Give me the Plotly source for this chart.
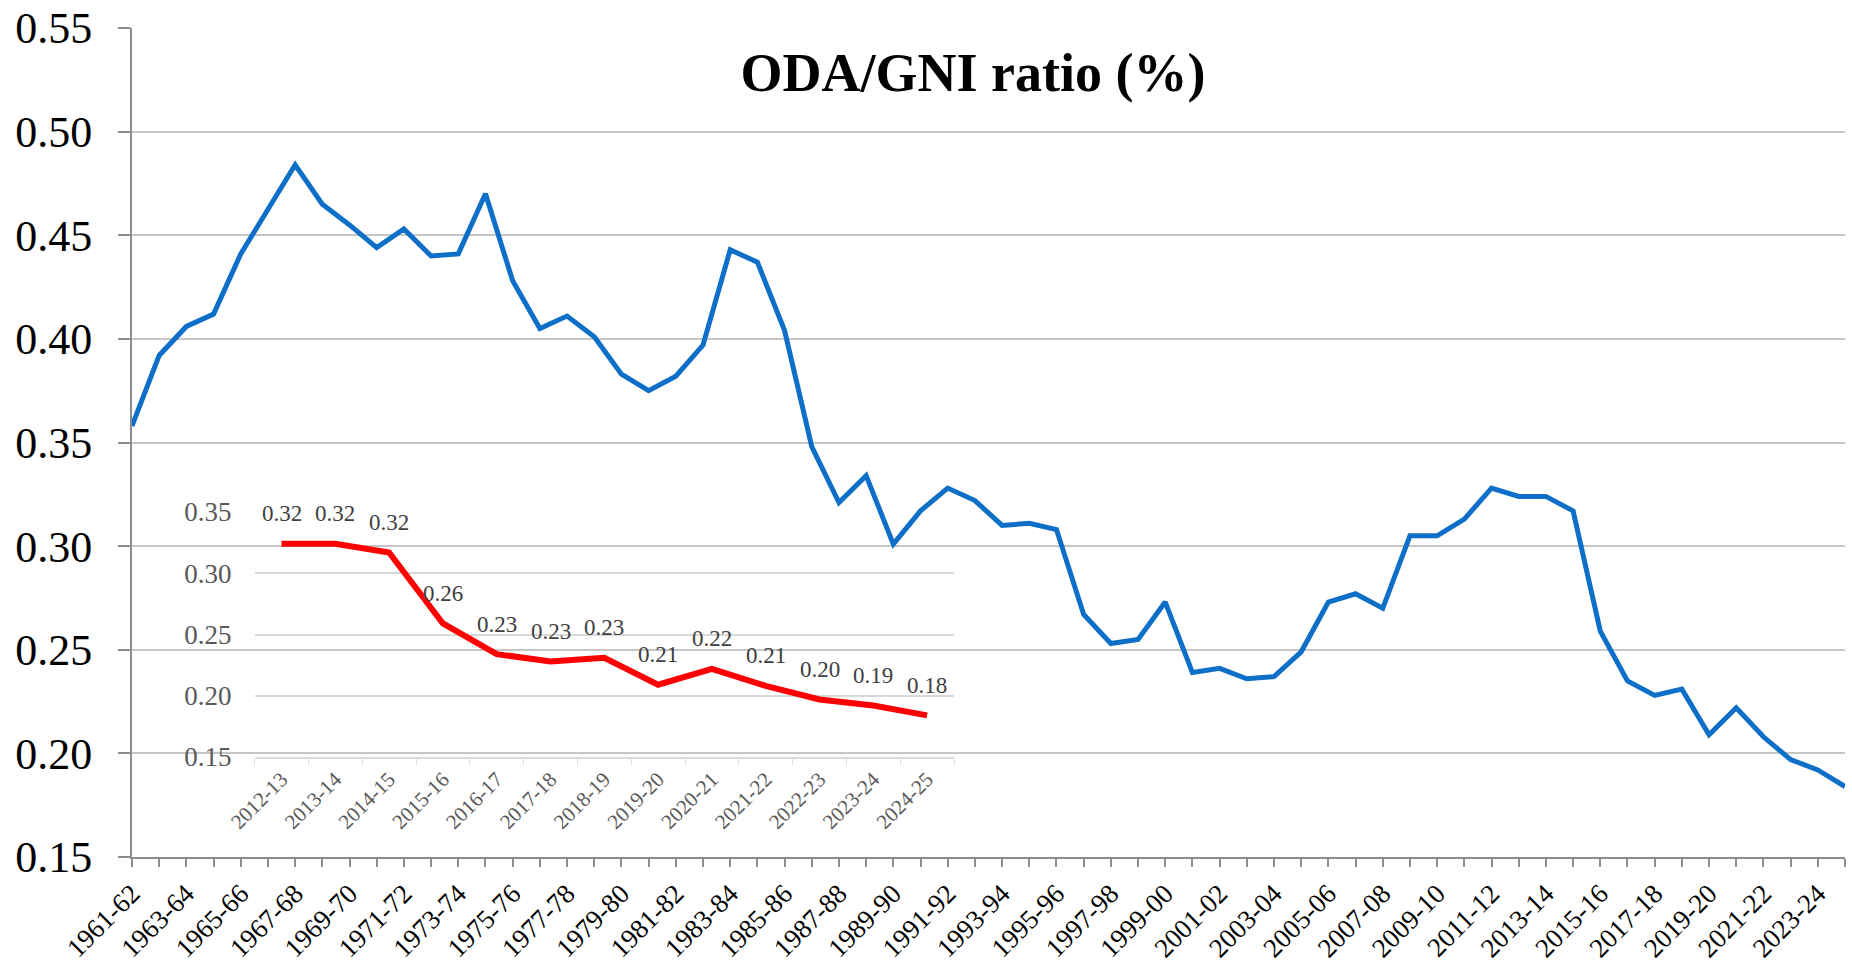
import plotly.graph_objects as go

# main series: ODA/GNI ratio, 1961-62 .. 2024-25
years = [f"{y}-{str(y + 1)[-2:]}" for y in range(1961, 2025)]
oda_gni = [
    0.358, 0.392, 0.406, 0.412, 0.441, 0.462, 0.484, 0.465, 0.455, 0.444,
    0.453, 0.440, 0.441, 0.470, 0.428, 0.405, 0.411, 0.401, 0.383, 0.375,
    0.382, 0.397, 0.443, 0.437, 0.404, 0.348, 0.321, 0.334, 0.301, 0.317,
    0.328, 0.322, 0.310, 0.311, 0.308, 0.267, 0.253, 0.255, 0.273, 0.239,
    0.241, 0.236, 0.237, 0.249, 0.273, 0.277, 0.270, 0.305, 0.305, 0.313,
    0.328, 0.324, 0.324, 0.317, 0.259, 0.235, 0.228, 0.231, 0.209, 0.222,
    0.208, 0.197, 0.192, 0.184,
]
year_labels = [y if i % 2 == 0 else "" for i, y in enumerate(years)]

# inset: recent years
recent_years = [
    "2012-13", "2013-14", "2014-15", "2015-16", "2016-17", "2017-18", "2018-19",
    "2019-20", "2020-21", "2021-22", "2022-23", "2023-24", "2024-25",
]
recent_ratio = [0.324, 0.324, 0.317, 0.259, 0.234, 0.228, 0.231, 0.209, 0.222, 0.208, 0.197, 0.192, 0.184]

FONT = "Liberation Serif"
W, H = 1852, 962
ML, MR, MT, MB = 132, 7, 28, 105


def px_x(px):
    return (px - ML) / (W - ML - MR)


def px_y(py):
    return (H - MB - py) / (H - MT - MB)


fig = go.Figure()
fig.add_trace(
    go.Scatter(
        x=years, y=oda_gni, mode="lines", name="ODA/GNI",
        line=dict(color="#0E6FC8", width=5),
        showlegend=False,
    )
)
fig.add_trace(
    go.Scatter(
        x=recent_years, y=recent_ratio, mode="lines", name="Recent",
        line=dict(color="#FF0000", width=6),
        xaxis="x2", yaxis="y2", showlegend=False,
    )
)

for yr, v in zip(recent_years, recent_ratio):
    fig.add_annotation(
        x=yr, y=v, xref="x2", yref="y2", text=f"{v:.2f}", showarrow=False,
        yshift=30, font=dict(family=FONT, size=23, color="#404040"),
    )

fig.update_layout(
    width=W, height=H,
    margin=dict(l=ML, r=MR, t=MT, b=MB),
    paper_bgcolor="white", plot_bgcolor="rgba(0,0,0,0)",
    title=dict(
        text="<b>ODA/GNI ratio (%)</b>", x=973 / W, xanchor="center",
        y=1 - 72 / H, yanchor="middle",
        font=dict(family=FONT, size=54, color="black"),
    ),
    xaxis=dict(
        type="category", range=[0, len(years) - 1], automargin=False,
        tickmode="array", tickvals=years, ticktext=year_labels, tickangle=-45,
        ticks="outside", ticklen=8, tickcolor="#8C8C8C", tickwidth=1.5,
        showline=True, linecolor="#8C8C8C", linewidth=2, showgrid=False,
        tickfont=dict(family=FONT, size=27, color="black"),
    ),
    yaxis=dict(
        range=[0.15, 0.55], dtick=0.05, tickformat=".2f", automargin=False,
        ticks="outside", ticklen=12, tickcolor="#8C8C8C", tickwidth=1.5,
        showline=True, linecolor="#8C8C8C", linewidth=2,
        showgrid=True, gridcolor="#C6C6C6", gridwidth=1.8, zeroline=False,
        ticklabelstandoff=17,
        tickfont=dict(family=FONT, size=44, color="black"),
    ),
    xaxis2=dict(
        domain=[px_x(254.6), px_x(954)], anchor="y2", type="category",
        range=[-0.5, len(recent_years) - 0.5], tickson="boundaries",
        automargin=False,
        tickangle=-45, ticks="outside", ticklen=6, tickcolor="#D9D9D9",
        showline=True, linecolor="#D9D9D9", linewidth=1.5, showgrid=False,
        tickfont=dict(family=FONT, size=21, color="#595959"),
    ),
    yaxis2=dict(
        domain=[px_y(757), px_y(512)], anchor="x2", automargin=False,
        range=[0.15, 0.35], dtick=0.05, tickformat=".2f",
        showgrid=True, gridcolor="#D9D9D9", gridwidth=1.5, zeroline=False,
        showline=False, ticks="", ticklabelstandoff=22,
        tickfont=dict(family=FONT, size=27, color="#595959"),
    ),
)

fig.write_html(
    "out.html",
    config={"displayModeBar": False},
    post_script="document.body.style.margin='0';",
)
